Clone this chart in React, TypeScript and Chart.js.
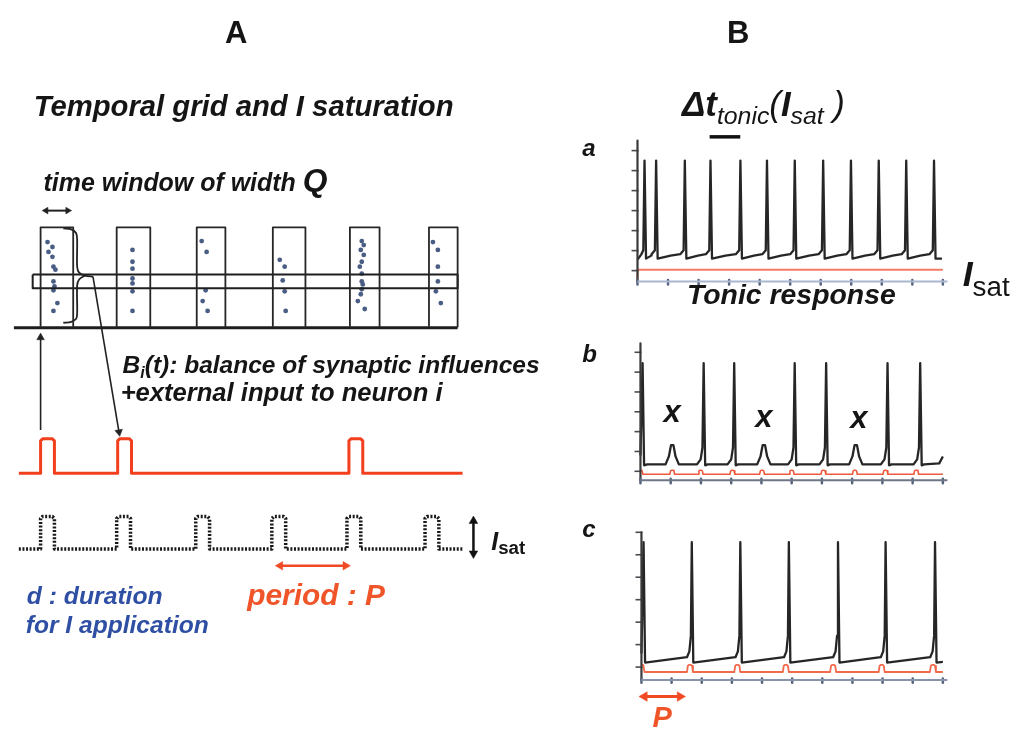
import React, { useEffect, useRef } from "react";
import { Chart, registerables } from "chart.js";
Chart.register(...registerables);

const W = 1022;
const H = 738;
const FONT = '"Liberation Sans", Arial, Helvetica, sans-serif';
const INK = "#151515";
const RED = "#f2401f";
const RED_TEXT = "#f0552a";
const BLUE_TEXT = "#2e4fa3";

// ---------------- Panel A (page-pixel space) ----------------
const windowLefts = [35, 112, 193, 270, 348, 428];
const windowRights = [68, 146, 222, 303, 378, 457];
const windowTop = 225;
const windowBottom = 326;
const band = { left: 27, right: 457, top: 273, bottom: 287 };
const timeAxis = { left: 8, right: 457, y: 327 };

const dotX = [42, 47, 43, 47, 48, 50, 48, 49, 48, 52, 48, 128, 128, 128, 128, 128, 128, 128, 198, 203, 202, 199, 204, 277, 282, 280, 282, 283, 360, 362, 359, 362, 360, 358, 360, 360, 361, 360, 359, 356, 363, 432, 437, 437, 437, 435, 440];
const dotY = [240, 245, 250, 255, 265, 268, 280, 285, 289, 302, 310, 248, 260, 267, 277, 282, 290, 310, 239, 250, 289, 300, 310, 258, 265, 279, 290, 310, 239, 243, 248, 253, 260, 265, 272, 280, 283, 288, 293, 300, 308, 240, 248, 265, 280, 290, 302];

const inputPulseStarts = [35, 113, 347];
const inputTrain = { start: 13, end: 462, base: 475, top: 440, width: 14 };
const satPulseStarts = [35, 112, 192, 269, 345, 424];
const satTrain = { start: 13, end: 462, base: 552, top: 519, width: 14 };

const braceUpper = [[58, 226], [66, 227], [71, 231], [72, 239], [72, 265], [74, 271], [80, 274], [88, 275]];
const braceLower = [[80, 274], [74, 278], [72, 284], [72, 312], [71, 318], [66, 321], [58, 322]];

// ---------------- Panel B (time units 0..10, voltage tick units 0..6) ----------------
const yTickValues = [0, 1, 2, 3, 4, 5, 6];
const xTickValues = [0, 1, 2, 3, 4, 5, 6, 7, 8, 9, 10];

const panelTonic = { left: 639, right: 948, zeroY: 269, sixY: 147, yMin: -0.54, yMax: 6.5, axisColor: "#a9b8d0" };
const panelPhasic = { left: 642, right: 948, zeroY: 473, sixY: 352, yMin: -0.45, yMax: 6.45, axisColor: "#6e7686" };
const panelPeriodic = { left: 643, right: 948, zeroY: 672, sixY: 535, yMin: -0.57, yMax: 6.0, axisColor: "#8a94a8" };

// a: tonic response
const tonicSpikes = [0.23, 0.61, 1.55, 2.39, 3.37, 4.24, 5.15, 6.08, 6.99, 7.9, 8.8, 9.71];
const tonicPeaks = [5.5, 5.5, 5.5, 5.5, 5.5, 5.5, 5.5, 5.5, 5.5, 5.5, 5.5, 5.5];
const tonicTrough = 0.6;
const tonicThreshold = 1.02;
const tonicCurrent = 0.05;

// b: periodic input with failures (x)
const phasicSpikes = [0.07, 2.09, 3.1, 5.1, 6.14, 8.17, 9.25];
const phasicPeak = 5.45;
const phasicFailures = [1.05, 4.08, 7.12];
const phasicFailurePeak = 1.32;
const phasicBase = 0.35;
const phasicPulses = [0, 1.05, 1.99, 3.04, 4.02, 5.0, 6.05, 7.09, 8.1, 9.12];
const phasicPulseLevel = -0.15;
const phasicPulseHeight = 0.2;

// c: period P entrainment
const periodicSpikes = [0.07, 1.67, 3.28, 4.89, 6.52, 8.1, 9.74];
const periodicPeak = 5.56;
const periodicTrough = 0.2;
const periodicPre = 0.44;
const periodicPulses = [0, 1.61, 3.18, 4.79, 6.36, 7.97, 9.67];
const periodicPulseLevel = -0.22;
const periodicPulseHeight = 0.32;

type Seg = { t: string; size: number; bold?: boolean; italic?: boolean; dy?: number };
type Label = { x: number; y: number; segs: Seg[]; color?: string; fit?: number; align?: "left" | "center" };

const labels: Label[] = [
  { x: 233, y: 38, align: "center", segs: [{ t: "A", size: 31, bold: true }] },
  { x: 741, y: 38, align: "center", segs: [{ t: "B", size: 31, bold: true }] },
  { x: 28, y: 112, fit: 420, segs: [{ t: "Temporal grid and I saturation", size: 29, bold: true, italic: true }] },
  { x: 38, y: 188, fit: 284, segs: [{ t: "time window of width ", size: 22, bold: true, italic: true }, { t: "Q", size: 28, bold: true, italic: true }] },
  { x: 118, y: 373, fit: 417, segs: [{ t: "B", size: 23, bold: true, italic: true }, { t: "i", size: 15, bold: true, italic: true, dy: 5 }, { t: "(t): balance of synaptic influences", size: 23, bold: true, italic: true }] },
  { x: 116, y: 402, fit: 322, segs: [{ t: "+external input to neuron i", size: 23, bold: true, italic: true }] },
  { x: 491, y: 553, fit: 34, segs: [{ t: "I", size: 20, bold: true, italic: true }, { t: "sat", size: 15, bold: true, dy: 3 }] },
  { x: 21, y: 608, fit: 136, color: BLUE_TEXT, segs: [{ t: "d : duration", size: 23, bold: true, italic: true }] },
  { x: 20, y: 637, fit: 183, color: BLUE_TEXT, segs: [{ t: "for I application", size: 23, bold: true, italic: true }] },
  { x: 244, y: 609, fit: 138, color: RED_TEXT, segs: [{ t: "period : P", size: 23, bold: true, italic: true }] },
  { x: 684, y: 112, fit: 163, segs: [{ t: "Δt", size: 28, bold: true, italic: true }, { t: "tonic", size: 20, italic: true, dy: 6 }, { t: "(", size: 28, italic: true }, { t: "I", size: 28, bold: true, italic: true }, { t: "sat", size: 20, italic: true, dy: 6 }, { t: " )", size: 28, italic: true }] },
  { x: 583, y: 152, segs: [{ t: "a", size: 24, bold: true, italic: true }] },
  { x: 583, y: 362, segs: [{ t: "b", size: 24, bold: true, italic: true }] },
  { x: 583, y: 540, segs: [{ t: "c", size: 24, bold: true, italic: true }] },
  { x: 689, y: 303, fit: 209, segs: [{ t: "Tonic response", size: 27, bold: true, italic: true }] },
  { x: 968, y: 285, fit: 47, segs: [{ t: "I", size: 31, bold: true, italic: true }, { t: "sat", size: 24, dy: 8 }] },
  { x: 674, y: 423, align: "center", segs: [{ t: "x", size: 31, bold: true, italic: true }] },
  { x: 767, y: 428, align: "center", segs: [{ t: "x", size: 31, bold: true, italic: true }] },
  { x: 863, y: 429, align: "center", segs: [{ t: "x", size: 31, bold: true, italic: true }] },
  { x: 664, y: 733, align: "center", color: RED_TEXT, segs: [{ t: "P", size: 29, bold: true, italic: true }] },
];

type Pt = { x: number; y: number };

const line = (pts: Pt[], color: string, width: number, extra: any = {}) => ({
  data: pts,
  showLine: true,
  borderColor: color,
  backgroundColor: color,
  borderWidth: width,
  pointRadius: 0,
  fill: false,
  tension: 0,
  borderJoinStyle: "round",
  borderCapStyle: "butt",
  ...extra,
});

const arrow = (x1: number, y1: number, x2: number, y2: number, color: string, width: number, r: number, both: boolean) => {
  const len = Math.hypot(x2 - x1, y2 - y1);
  const ux = (x2 - x1) / len;
  const uy = (y2 - y1) / len;
  const rot = (Math.atan2(ux, -uy) * 180) / Math.PI;
  const heads: Pt[] = [{ x: x2 - ux * r, y: y2 - uy * r }];
  const rots = [rot];
  let sx = x1;
  let sy = y1;
  if (both) {
    heads.push({ x: x1 + ux * r, y: y1 + uy * r });
    rots.push(rot + 180);
    sx = x1 + ux * r;
    sy = y1 + uy * r;
  }
  return [
    line([{ x: sx, y: sy }, { x: x2 - ux * r, y: y2 - uy * r }], color, width),
    {
      data: heads,
      showLine: false,
      pointStyle: "triangle",
      pointRadius: r * 1.1,
      pointRotation: rots,
      pointBackgroundColor: color,
      pointBorderColor: color,
      pointBorderWidth: 0.5,
    },
  ];
};

const pulseTrain = (starts: number[], tr: { start: number; end: number; base: number; top: number; width: number }): Pt[] => {
  const pts: Pt[] = [{ x: tr.start, y: tr.base }];
  starts.forEach((s) => {
    pts.push({ x: s, y: tr.base }, { x: s, y: tr.top + 2 }, { x: s + 2, y: tr.top }, { x: s + tr.width - 2, y: tr.top }, { x: s + tr.width, y: tr.top + 2 }, { x: s + tr.width, y: tr.base });
  });
  pts.push({ x: tr.end, y: tr.base });
  return pts;
};

type Panel = { left: number; right: number; zeroY: number; sixY: number; yMin: number; yMax: number; axisColor: string };
const tx = (p: Panel, t: number) => p.left + (t / 10) * (p.right - p.left);
const vy = (p: Panel, v: number) => p.zeroY + (v / 6) * (p.sixY - p.zeroY);
const toPx = (p: Panel, pts: number[][]): Pt[] => pts.map(([t, v]) => ({ x: tx(p, t), y: vy(p, v) }));

const panelAxes = (p: Panel) => {
  const ds: any[] = [];
  const yTop = vy(p, p.yMax);
  const yBot = vy(p, p.yMin);
  ds.push(line([{ x: tx(p, 0), y: yBot }, { x: tx(p, 10.15), y: yBot }], p.axisColor, 2));
  xTickValues.forEach((t) => ds.push(line([{ x: tx(p, t), y: yBot - 1.5 }, { x: tx(p, t), y: yBot + 3 }], "#55637c", 2.5)));
  ds.push(line([{ x: p.left, y: yTop }, { x: p.left, y: yBot }], "#3a3a3a", 2.2));
  yTickValues.forEach((v) => ds.push(line([{ x: p.left - 6, y: vy(p, v) }, { x: p.left + 1, y: vy(p, v) }], "#4a4a52", 1.6)));
  return ds;
};

const stimPulses = (times: number[], level: number, h: number, hw: number, end: number): number[][] => {
  const pts: number[][] = [];
  times.forEach((t, i) => {
    if (i === 0 && t === 0) {
      pts.push([0, level + h], [hw * 0.6, level + h], [hw, level]);
    } else {
      pts.push([t - hw, level], [t - hw * 0.7, level + h * 0.85], [t - hw * 0.35, level + h], [t + hw * 0.35, level + h], [t + hw * 0.7, level + h * 0.85], [t + hw, level]);
    }
  });
  pts.push([end, level]);
  return pts;
};

const tonicTrace = (): number[][] => {
  const pts: number[][] = [[0.0, 0.55], [0.12, 0.8], [tonicSpikes[0] - 0.04, tonicThreshold]];
  tonicSpikes.forEach((t, i) => {
    pts.push([t, tonicPeaks[i]], [t + 0.05, tonicTrough]);
    const next = tonicSpikes[i + 1];
    if (next !== undefined) {
      const g = next - t;
      pts.push([t + 0.05 + 0.45 * g, tonicTrough + 0.15], [next - 0.15, tonicThreshold - 0.2], [next - 0.04, tonicThreshold]);
    } else {
      pts.push([9.97, tonicTrough]);
    }
  });
  return pts;
};

const phasicTrace = (): number[][] => {
  const events = [
    ...phasicSpikes.map((t) => ({ t, kind: "spike" })),
    ...phasicFailures.map((t) => ({ t, kind: "fail" })),
  ].sort((a, b) => a.t - b.t);
  const b = phasicBase;
  const pts: number[][] = [[0, 0.8]];
  events.forEach((e, i) => {
    if (i === 0) {
      pts.push([e.t, phasicPeak], [e.t + 0.05, b - 0.05], [e.t + 0.15, b]);
      return;
    }
    if (e.kind === "spike") {
      pts.push([e.t - 0.22, b], [e.t - 0.1, 0.6], [e.t - 0.04, 1.2], [e.t, phasicPeak], [e.t + 0.05, b - 0.05], [e.t + 0.13, b]);
    } else {
      pts.push([e.t - 0.22, b], [e.t - 0.11, 0.75], [e.t - 0.04, phasicFailurePeak], [e.t + 0.04, phasicFailurePeak], [e.t + 0.11, 0.75], [e.t + 0.22, b]);
    }
  });
  pts.push([9.88, b + 0.05], [10, 0.75]);
  return pts;
};

const periodicTrace = (): number[][] => {
  const pts: number[][] = [[0, 0.6]];
  periodicSpikes.forEach((t, i) => {
    if (i > 0) pts.push([t - 0.16, periodicPre], [t - 0.08, 0.7], [t - 0.03, 1.4]);
    pts.push([t, periodicPeak], [t + 0.05, periodicTrough]);
  });
  pts.push([10, periodicTrough + 0.03]);
  return pts;
};

const buildDatasets = () => {
  const ds: any[] = [];
  // ---- Panel A ----
  windowLefts.forEach((l, i) => {
    const r = windowRights[i];
    ds.push(line([{ x: l, y: windowBottom }, { x: l, y: windowTop }, { x: r, y: windowTop }, { x: r, y: windowBottom }], "#262626", 1.8));
  });
  ds.push(line([{ x: band.left, y: band.top }, { x: band.right, y: band.top }, { x: band.right, y: band.bottom }, { x: band.left, y: band.bottom }, { x: band.left, y: band.top }], "#1e1e1e", 2));
  ds.push(line([{ x: timeAxis.left, y: timeAxis.y }, { x: timeAxis.right, y: timeAxis.y }], "#1e1e1e", 3));
  ds.push({
    data: dotX.map((x, i) => ({ x, y: dotY[i] })),
    showLine: false,
    pointRadius: 2.4,
    pointBackgroundColor: "#4a5d84",
    pointBorderWidth: 0,
  });
  ds.push(line(braceUpper.map(([x, y]) => ({ x, y })), "#222", 1.8, { tension: 0.35 }));
  ds.push(line(braceLower.map(([x, y]) => ({ x, y })), "#222", 1.8, { tension: 0.35 }));
  ds.push(...arrow(88, 275, 115, 437, "#222", 1.6, 4, false));
  ds.push(...arrow(35, 431, 35, 333, "#222", 1.6, 4, false));
  ds.push(...arrow(37, 208, 66, 208, "#222", 2, 3.5, true));
  ds.push(line(pulseTrain(inputPulseStarts, inputTrain), RED, 3));
  ds.push(line(pulseTrain(satPulseStarts, satTrain), "#1a1a1a", 3.5, { borderDash: [2, 1.6] }));
  ds.push(...arrow(473, 561, 473, 519, "#111", 2.5, 4.5, true));
  ds.push(...arrow(273, 569, 348, 569, "#f04a25", 2.5, 4.5, true));

  // ---- Panel B ----
  // a
  ds.push(...panelAxes(panelTonic));
  ds.push(line(toPx(panelTonic, [[0, panelTonic.yMin], [0, tonicCurrent], [10, tonicCurrent]]), "#f47c62", 2));
  ds.push(line(toPx(panelTonic, tonicTrace()), "#262626", 2.3));
  // b
  ds.push(...panelAxes(panelPhasic));
  ds.push(line(toPx(panelPhasic, stimPulses(phasicPulses, phasicPulseLevel, phasicPulseHeight, 0.08, 10)), "#f05a3c", 1.6));
  ds.push(line(toPx(panelPhasic, phasicTrace()), "#262626", 2.3));
  // c
  ds.push(...panelAxes(panelPeriodic));
  ds.push(line(toPx(panelPeriodic, stimPulses(periodicPulses, periodicPulseLevel, periodicPulseHeight, 0.1, 10)), "#f26a4c", 1.8));
  ds.push(line(toPx(panelPeriodic, periodicTrace()), "#262626", 2.3));
  ds.push(...arrow(641, 702, 687, 702, "#f04a25", 3, 5, true));
  // bar under Δt
  ds.push(line([{ x: 712, y: 133 }, { x: 743, y: 133 }], "#111", 3.5));
  return ds;
};

const fontOf = (s: Seg, size: number) => `${s.italic ? "italic " : ""}${s.bold ? "bold " : ""}${size}px ${FONT}`;

const textPlugin = {
  id: "figureText",
  afterDatasetsDraw(chart: any) {
    const ctx = chart.ctx as CanvasRenderingContext2D;
    const xs = chart.scales.x;
    const ys = chart.scales.y;
    ctx.save();
    ctx.textBaseline = "alphabetic";
    ctx.textAlign = "left";
    labels.forEach((lb) => {
      let total = 0;
      lb.segs.forEach((s) => {
        ctx.font = fontOf(s, s.size);
        total += ctx.measureText(s.t).width;
      });
      const k = lb.fit ? lb.fit / total : 1;
      let x = xs.getPixelForValue(lb.x);
      if (lb.align === "center") x -= (total * k) / 2;
      const y = ys.getPixelForValue(lb.y);
      ctx.fillStyle = lb.color || INK;
      lb.segs.forEach((s) => {
        ctx.font = fontOf(s, s.size * k);
        ctx.fillText(s.t, x, y + (s.dy || 0) * k);
        x += ctx.measureText(s.t).width;
      });
    });
    ctx.restore();
  },
};

const whiteBg = {
  id: "whiteBg",
  beforeDraw(chart: any) {
    const ctx = chart.ctx;
    ctx.save();
    ctx.fillStyle = "#ffffff";
    ctx.fillRect(0, 0, chart.width, chart.height);
    ctx.restore();
  },
};

export default function App() {
  const ref = useRef<HTMLCanvasElement | null>(null);
  useEffect(() => {
    if (!ref.current) return;
    const chart = new Chart(ref.current, {
      type: "scatter",
      data: { datasets: buildDatasets() },
      options: {
        animation: false,
        responsive: false,
        devicePixelRatio: 1,
        layout: { padding: 0 },
        events: [],
        scales: {
          x: { type: "linear", min: 0, max: W, display: false },
          y: { type: "linear", min: 0, max: H, reverse: true, display: false },
        },
        plugins: { legend: { display: false }, tooltip: { enabled: false }, title: { display: false } },
      } as any,
      plugins: [whiteBg, textPlugin],
    });
    return () => chart.destroy();
  }, []);
  return (
    <div style={{ position: "absolute", left: 0, top: 0, width: W, height: H, background: "#fff" }}>
      <canvas ref={ref} width={W} height={H} style={{ display: "block", width: W, height: H }} />
    </div>
  );
}
